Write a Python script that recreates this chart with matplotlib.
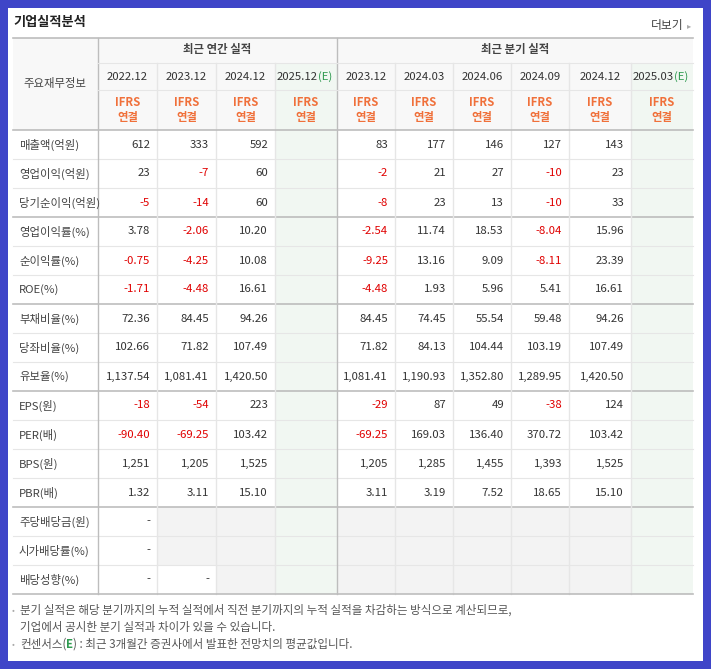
import matplotlib.pyplot as plt
from matplotlib.patches import Rectangle

plt.rcParams['font.family'] = ['Noto Sans CJK JP', 'Noto Sans CJK KR', 'Noto Sans CJK SC', 'DejaVu Sans']

title = '기업실적분석'
annual_periods = ['2022.12', '2023.12', '2024.12', '2025.12']
quarter_periods = ['2023.12', '2024.03', '2024.06', '2024.09', '2024.12', '2025.03']
row_labels = ['매출액(억원)', '영업이익(억원)', '당기순이익(억원)',
              '영업이익률(%)', '순이익률(%)', 'ROE(%)',
              '부채비율(%)', '당좌비율(%)', '유보율(%)',
              'EPS(원)', 'PER(배)', 'BPS(원)', 'PBR(배)',
              '주당배당금(원)', '시가배당률(%)', '배당성향(%)']
# '' = empty cell, None = grey (no data) cell
annual_values = [
    ['612', '333', '592', ''],
    ['23', '-7', '60', ''],
    ['-5', '-14', '60', ''],
    ['3.78', '-2.06', '10.20', ''],
    ['-0.75', '-4.25', '10.08', ''],
    ['-1.71', '-4.48', '16.61', ''],
    ['72.36', '84.45', '94.26', ''],
    ['102.66', '71.82', '107.49', ''],
    ['1,137.54', '1,081.41', '1,420.50', ''],
    ['-18', '-54', '223', ''],
    ['-90.40', '-69.25', '103.42', ''],
    ['1,251', '1,205', '1,525', ''],
    ['1.32', '3.11', '15.10', ''],
    ['-', None, None, ''],
    ['-', None, None, ''],
    ['-', '-', None, ''],
]
quarter_values = [
    ['83', '177', '146', '127', '143', ''],
    ['-2', '21', '27', '-10', '23', ''],
    ['-8', '23', '13', '-10', '33', ''],
    ['-2.54', '11.74', '18.53', '-8.04', '15.96', ''],
    ['-9.25', '13.16', '9.09', '-8.11', '23.39', ''],
    ['-4.48', '1.93', '5.96', '5.41', '16.61', ''],
    ['84.45', '74.45', '55.54', '59.48', '94.26', ''],
    ['71.82', '84.13', '104.44', '103.19', '107.49', ''],
    ['1,081.41', '1,190.93', '1,352.80', '1,289.95', '1,420.50', ''],
    ['-29', '87', '49', '-38', '124', ''],
    ['-69.25', '169.03', '136.40', '370.72', '103.42', ''],
    ['1,205', '1,285', '1,455', '1,393', '1,525', ''],
    ['3.11', '3.19', '7.52', '18.65', '15.10', ''],
    [None, None, None, None, None, ''],
    [None, None, None, None, None, ''],
    [None, None, None, None, None, ''],
]
group_ends = [3, 6, 9, 13]
notes = ['분기 실적은 해당 분기까지의 누적 실적에서 직전 분기까지의 누적 실적을 차감하는 방식으로 계산되므로,',
         '기업에서 공시한 분기 실적과 차이가 있을 수 있습니다.']
note_e = ('컨센서스(', 'E', ') : 최근 3개월간 증권사에서 발표한 전망치의 평균값입니다.')

col_x = [13, 98, 157, 216, 275, 337, 395, 453, 511, 569, 631, 693]
y_group, y_date, y_ifrs, y_data = 38, 63, 90, 130
row_h = 29
fs = 8.2

fig = plt.figure(figsize=(7.11, 6.69), dpi=100)
fig.patch.set_facecolor('#3f45c8')
ax = fig.add_axes([0, 0, 1, 1])
ax.set_xlim(0, 711)
ax.set_ylim(669, 0)
ax.axis('off')

def rect(x0, y0, x1, y1, color):
    ax.add_patch(Rectangle((x0, y0), x1 - x0, y1 - y0, facecolor=color, edgecolor='none'))

rect(8, 8, 703, 661, 'white')
ax.text(13, 22, title, fontsize=9.5, fontweight='bold', color='#222', va='center')
ax.text(684, 26, '더보기', fontsize=8.5, color='#444', va='center', ha='right')
ax.text(689, 26, '▸', fontsize=6, color='#aaa', va='center', ha='center')

y_end = y_data + row_h * len(row_labels)
rect(13, y_group, 693, y_data, '#f8f8f8')
est_cols = [4, 10]
for c in est_cols:
    rect(col_x[c], y_date, col_x[c + 1], y_end, '#f1f7f2')

all_periods = annual_periods + quarter_periods
for r in range(len(row_labels)):
    vals = annual_values[r] + quarter_values[r]
    yc = y_data + row_h * (r + 0.5)
    ax.text(19, yc, row_labels[r], fontsize=fs, color='#444', va='center')
    for j, v in enumerate(vals):
        c = j + 1
        x0, x1 = col_x[c], col_x[c + 1]
        if v is None:
            rect(x0, y_data + row_h * r, x1, y_data + row_h * (r + 1), '#f3f3f3')
        elif v:
            color = '#e00000' if v.startswith('-') and v != '-' else '#333'
            ax.text(x1 - 7, yc, v, fontsize=fs, color=color, va='center', ha='right')

# grid lines
for r in range(1, len(row_labels)):
    y = y_data + row_h * r
    if r in group_ends:
        ax.plot([13, 693], [y, y], color='#bdbdbd', lw=1.2)
    else:
        ax.plot([13, 693], [y, y], color='#e6e6e6', lw=0.8)
for c in range(2, len(col_x) - 1):
    y0 = y_group if c == 5 else y_date
    col = '#bdbdbd' if c == 5 else '#e6e6e6'
    ax.plot([col_x[c], col_x[c]], [y0, y_end], color=col, lw=1.0)
ax.plot([98, 98], [y_group, y_end], color='#bdbdbd', lw=1.0)
ax.plot([98, 693], [y_date, y_date], color='#e6e6e6', lw=0.8)
ax.plot([98, 693], [y_ifrs, y_ifrs], color='#e6e6e6', lw=0.8)
for y in [y_group, y_data, y_end]:
    ax.plot([13, 693], [y, y], color='#bdbdbd', lw=1.2)

ax.text(55, (y_group + y_data) / 2, '주요재무정보', fontsize=fs, color='#444', va='center', ha='center')
ax.text((98 + 337) / 2, 50, '최근 연간 실적', fontsize=fs, fontweight='bold', color='#444', va='center', ha='center')
ax.text((337 + 693) / 2, 50, '최근 분기 실적', fontsize=fs, fontweight='bold', color='#444', va='center', ha='center')
for j, p in enumerate(all_periods):
    c = j + 1
    xc = (col_x[c] + col_x[c + 1]) / 2
    if c in est_cols:
        ax.text(xc + 12, 77, p, fontsize=fs, color='#333', va='center', ha='right')
        ax.text(xc + 12, 77, '(E)', fontsize=fs, color='#2f9a50', va='center', ha='left')
    else:
        ax.text(xc, 77, p, fontsize=fs, color='#333', va='center', ha='center')
    ax.text(xc, 103, 'IFRS', fontsize=fs, fontweight='bold', color='#f0703a', va='center', ha='center')
    ax.text(xc, 117, '연결', fontsize=fs, fontweight='bold', color='#f0703a', va='center', ha='center')

nfs = 8.3
ax.text(12, 610, '•', fontsize=6, color='#aaa', va='center')
ax.text(20, 610, notes[0], fontsize=nfs, color='#555', va='center')
ax.text(20, 627, notes[1], fontsize=nfs, color='#555', va='center')
ax.text(12, 644, '•', fontsize=6, color='#aaa', va='center')
t1 = ax.text(20, 644, note_e[0], fontsize=nfs, color='#555', va='center')
fig.canvas.draw()
w1 = t1.get_window_extent().width
t2 = ax.text(20 + w1, 644, note_e[1], fontsize=nfs, color='#2f9a50', fontweight='bold', va='center')
w2 = t2.get_window_extent().width
ax.text(20 + w1 + w2, 644, note_e[2], fontsize=nfs, color='#555', va='center')

fig.savefig('out.png', dpi=100, facecolor=fig.get_facecolor())
